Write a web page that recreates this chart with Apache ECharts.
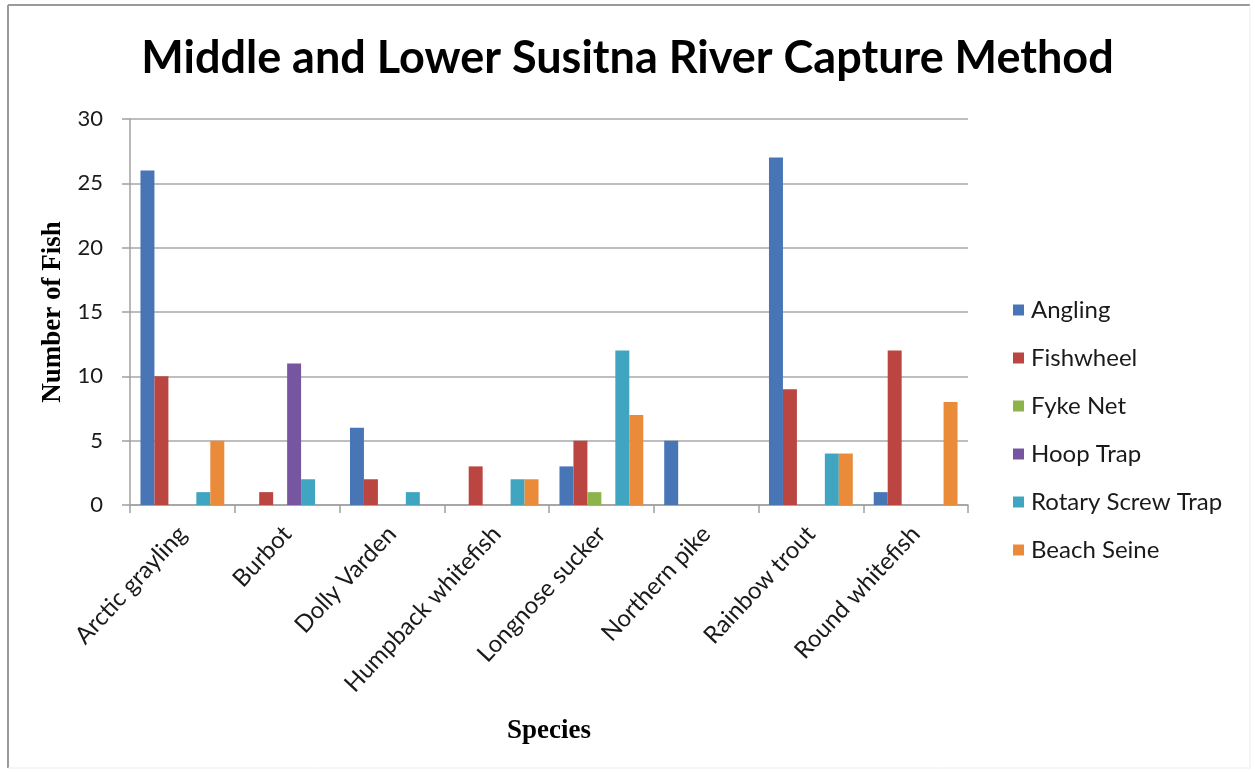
<!DOCTYPE html>
<html>
<head>
<meta charset="utf-8">
<script src="https://cdn.jsdelivr.net/npm/echarts@6/dist/echarts.min.js"></script>
<style>html,body{margin:0;padding:0;background:#fff;}#c{width:1255px;height:772px;}</style>
</head>
<body>
<div id="c"></div>
<script>
const species = ["Arctic grayling", "Burbot", "Dolly Varden", "Humpback whitefish", "Longnose sucker", "Northern pike", "Rainbow trout", "Round whitefish"];
const angling     = [26, 0, 6, 0, 3, 5, 27, 1];
const fishwheel   = [10, 1, 2, 3, 5, 0, 9, 12];
const fykeNet     = [0, 0, 0, 0, 1, 0, 0, 0];
const hoopTrap    = [0, 11, 0, 0, 0, 0, 0, 0];
const rotaryScrew = [1, 2, 1, 2, 12, 0, 4, 0];
const beachSeine  = [5, 0, 0, 2, 7, 0, 4, 8];
const yTicks = [0, 5, 10, 15, 20, 25, 30];

const seriesDefs = [
  ["Angling", angling, "#4775B5"],
  ["Fishwheel", fishwheel, "#BA4541"],
  ["Fyke Net", fykeNet, "#8DB34B"],
  ["Hoop Trap", hoopTrap, "#7656A0"],
  ["Rotary Screw Trap", rotaryScrew, "#40A5C1"],
  ["Beach Seine", beachSeine, "#EA8B3A"]
];

const chart = echarts.init(document.getElementById('c'), null, {renderer: 'canvas'});
const font = 'Lato, "Open Sans", sans-serif';
chart.setOption({
  animation: false,
  backgroundColor: '#ffffff',
  title: {
    text: 'Middle and Lower Susitna River Capture Method',
    left: 'center',
    top: 31,
    textStyle: {fontFamily: font, fontWeight: 'bold', fontSize: 45, color: '#000'}
  },
  legend: {
    orient: 'vertical',
    left: 1008,
    top: 293,
    itemWidth: 11,
    itemHeight: 11,
    itemGap: 24,
    icon: 'rect',
    textStyle: {fontFamily: font, fontSize: 24, color: '#1a1a1a', lineHeight: 24, padding: [0, 0, 0, 2]}
  },
  grid: {left: 130, right: 287, top: 119, bottom: 267},
  xAxis: {
    type: 'category',
    data: species,
    name: 'Species',
    nameLocation: 'middle',
    nameGap: 213,
    nameTextStyle: {fontFamily: '"Liberation Serif", serif', fontWeight: 'bold', fontSize: 27, color: '#000'},
    axisLine: {lineStyle: {color: '#a0a0a0', width: 1.5}},
    axisTick: {show: true, length: 8, lineStyle: {color: '#a0a0a0', width: 1.5}},
    axisLabel: {rotate: 47, margin: 25, fontFamily: font, fontSize: 24, color: '#1a1a1a', interval: 0}
  },
  yAxis: {
    type: 'value',
    min: 0, max: 30, interval: 5,
    name: 'Number of Fish',
    nameLocation: 'middle',
    nameGap: 53,
    nameRotate: 90,
    nameTextStyle: {fontFamily: '"Liberation Serif", serif', fontWeight: 'bold', fontSize: 27, color: '#000'},
    axisLine: {show: true, lineStyle: {color: '#a0a0a0', width: 1.5}},
    axisTick: {show: true, length: 8, lineStyle: {color: '#a0a0a0', width: 1.5}},
    axisLabel: {margin: 27, fontFamily: font, fontSize: 22, color: '#1a1a1a',
      formatter: v => yTicks.includes(v) ? String(v) : ''},
    splitLine: {lineStyle: {color: '#a8a8a8', width: 1.5}}
  },
  series: seriesDefs.map(([name, data, color]) => ({
    name, type: 'bar', data,
    barGap: '0%', barCategoryGap: '20%',
    itemStyle: {color}
  })),
  graphic: [
    {type: 'line', shape: {x1: 8, y1: 5, x2: 8, y2: 768}, style: {stroke: '#9a9a9a', lineWidth: 2}},
    {type: 'line', shape: {x1: 8, y1: 5, x2: 1250, y2: 5}, style: {stroke: '#9a9a9a', lineWidth: 2}},
    {type: 'line', shape: {x1: 1250, y1: 5, x2: 1250, y2: 768}, style: {stroke: '#ececec', lineWidth: 1}},
    {type: 'line', shape: {x1: 8, y1: 768, x2: 1250, y2: 768}, style: {stroke: '#ececec', lineWidth: 1}}
  ]
});
</script>
</body>
</html>
